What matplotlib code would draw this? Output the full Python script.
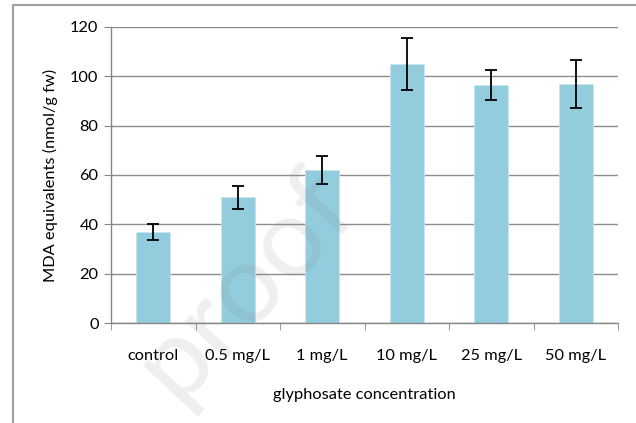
import matplotlib
matplotlib.use("Agg")
import matplotlib.pyplot as plt
from matplotlib.patches import Rectangle
import numpy as np

categories = ["control", "0.5 mg/L", "1 mg/L", "10 mg/L", "25 mg/L", "50 mg/L"]
values = [37, 51, 62, 105, 96.5, 97]
errors = [3.3, 4.7, 5.5, 10.7, 6.2, 9.7]
yticks = [0, 20, 40, 60, 80, 100, 120]

plt.rcParams['font.family'] = ['Lato', 'DejaVu Sans']
FS = 11.8

fig = plt.figure(figsize=(6.36, 4.23), dpi=100)
ax = fig.add_axes([111/636, 1-323/423, (618-111)/636, (323-27)/423])

x = np.arange(len(categories))
ax.bar(x, values, width=0.4, color="#93CDDD", edgecolor="#C9E6EE", linewidth=0.6, zorder=2)
ax.errorbar(x, values, yerr=errors, fmt="none", ecolor="black", elinewidth=1.3,
            capsize=4, capthick=1.3, zorder=3)

ax.set_xlim(-0.5, len(categories) - 0.5)
ax.set_ylim(0, 120)
ax.set_yticks(yticks)
ax.set_yticklabels([str(t) for t in yticks], fontsize=FS)
ax.set_xticks(x)
ax.set_xticklabels(categories, fontsize=FS)
ax.tick_params(axis="x", length=0, pad=19)
ax.set_xticks(np.arange(-0.5, len(categories)), minor=True)
ax.tick_params(axis="x", which="minor", length=5, color="#868686", direction="out")
ax.tick_params(axis="y", length=5, color="#868686", direction="out", pad=4)

ax.yaxis.grid(True, color="#8C8C8C", linewidth=1.0, zorder=0)
ax.set_axisbelow(True)
for s in ["top", "right"]:
    ax.spines[s].set_visible(False)
for s in ["left", "bottom"]:
    ax.spines[s].set_color("#868686")
    ax.spines[s].set_linewidth(1.0)

ax.set_ylabel("MDA equivalents (nmol/g fw)", fontsize=FS, labelpad=9)
ax.set_xlabel("glyphosate concentration", fontsize=FS, labelpad=18)

# figure border (Excel chart area)
fig.patches.append(Rectangle((13/636, -0.05), 1.0, 1 - 5/423 + 0.05,
                             transform=fig.transFigure, fill=False,
                             edgecolor="#A0A0A0", linewidth=1.5))

# watermark
fig.text(245/636, 1 - 285/423, "proof", fontsize=80, color="#808080", alpha=0.13,
         rotation=47, ha="center", va="center", zorder=10)

fig.savefig("out.png", dpi=100)
